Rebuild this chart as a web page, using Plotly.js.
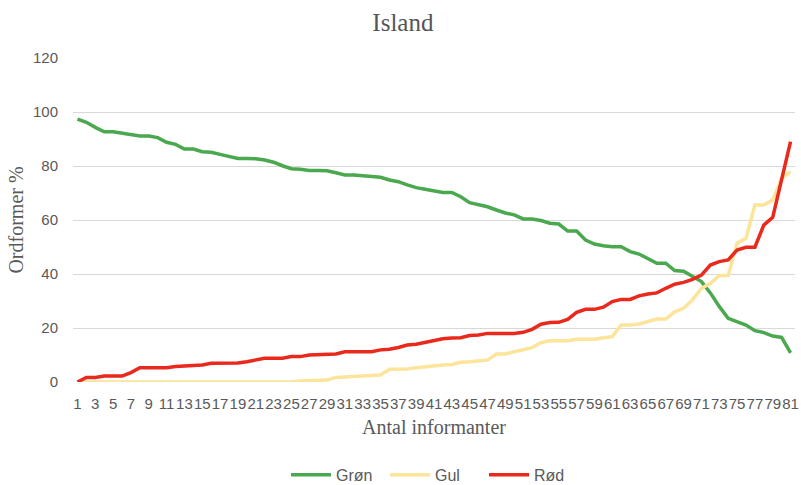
<!DOCTYPE html>
<html>
<head>
<meta charset="utf-8">
<script src="https://cdn.plot.ly/plotly-3.0.1.min.js"></script>
<style>
  html, body { margin: 0; padding: 0; background: #fff; }
  #chart { width: 801px; height: 485px; }
</style>
</head>
<body>
<div id="chart"></div>
<script>
// informant number, 1..81
const informanter = [1, 2, 3, 4, 5, 6, 7, 8, 9, 10, 11, 12, 13, 14, 15, 16, 17, 18, 19, 20,
  21, 22, 23, 24, 25, 26, 27, 28, 29, 30, 31, 32, 33, 34, 35, 36, 37, 38, 39, 40,
  41, 42, 43, 44, 45, 46, 47, 48, 49, 50, 51, 52, 53, 54, 55, 56, 57, 58, 59, 60,
  61, 62, 63, 64, 65, 66, 67, 68, 69, 70, 71, 72, 73, 74, 75, 76, 77, 78, 79, 80, 81]

const tickLabels = [1, 3, 5, 7, 9, 11, 13, 15, 17, 19, 21, 23, 25, 27, 29, 31, 33, 35, 37, 39,
  41, 43, 45, 47, 49, 51, 53, 55, 57, 59, 61, 63, 65, 67, 69, 71, 73, 75, 77, 79, 81]

const groen = [97.4, 96.2, 94.3, 92.7, 92.7, 92.1, 91.6, 91.1, 91.1, 90.5,
  88.8, 88.0, 86.3, 86.3, 85.3, 85.1, 84.3, 83.7, 82.8, 82.8,
  82.7, 82.2, 81.4, 80.1, 79.0, 78.8, 78.3, 78.3, 78.2, 77.5,
  76.7, 76.7, 76.5, 76.0, 75.8, 74.8, 74.2, 73.0, 72.0, 71.4,
  70.7, 70.2, 70.2, 68.6, 66.4, 65.8, 64.9, 63.7, 62.6, 61.9,
  60.4, 60.4, 59.8, 58.8, 58.5, 55.9, 55.9, 52.6, 51.1, 50.5,
  50.1, 50.1, 48.3, 47.4, 45.6, 44.0, 44.0, 41.3, 41.0, 39.0,
  37.2, 33.0, 28.0, 23.6, 22.3, 21.1, 19.0, 18.3, 17.0, 16.5, 10.8]

const gul = [0, 0, 0, 0, 0, 0, 0, 0, 0, 0,
  0, 0, 0, 0, 0, 0, 0, 0, 0, 0,
  0, 0, 0, 0, 0, 0.4, 0.5, 0.5, 0.7, 1.7,
  1.7, 2.0, 2.2, 2.5, 2.6, 4.7, 4.7, 4.8, 5.3, 5.7,
  5.9, 6.3, 6.5, 7.3, 7.5, 7.8, 8.1, 10.4, 10.4, 11.2,
  11.9, 12.7, 14.6, 15.3, 15.3, 15.3, 15.8, 15.8, 15.8, 16.4,
  16.8, 21.1, 21.1, 21.5, 22.5, 23.3, 23.3, 26.0, 27.3, 30.4,
  34.7, 36.5, 39.4, 39.4, 51.4, 53.2, 65.6, 65.6, 67.4, 75.4, 77.9]

const roed = [0, 1.7, 1.7, 2.2, 2.2, 2.2, 3.5, 5.3, 5.3, 5.3,
  5.3, 5.7, 5.9, 6.3, 6.3, 6.9, 7.0, 7.0, 7.0, 7.5,
  8.1, 8.8, 8.8, 8.8, 9.4, 9.4, 10.0, 10.2, 10.2, 10.4,
  11.2, 11.2, 11.2, 11.2, 11.9, 12.1, 12.8, 13.7, 14.0, 14.7,
  15.6, 16.0, 16.3, 16.4, 17.2, 17.4, 18.0, 18.0, 18.0, 18.0,
  18.4, 19.5, 21.4, 22.0, 22.1, 23.2, 25.8, 26.9, 26.9, 27.7,
  29.8, 30.6, 30.6, 31.9, 32.6, 33.0, 34.7, 36.2, 36.9, 38.0,
  39.6, 43.3, 44.6, 45.2, 48.9, 49.9, 49.9, 58.1, 61.0, 75.0, 89.0]

const serif = '"Liberation Serif", "DejaVu Serif", serif'
const sans = '"Liberation Sans", Arial, sans-serif'

function line(name, y, color) {
  return {
    x: informanter,
    y: y,
    name: name,
    type: 'scatter',
    mode: 'lines',
    line: { color: color, width: 3.5 },
    hoverinfo: 'skip'
  }
}

Plotly.newPlot('chart', [
  line('Grøn', groen, '#4aa84f'),
  line('Gul', gul, '#fce49a'),
  line('Rød', roed, '#e8291c')
], {
  width: 801,
  height: 485,
  margin: { l: 73, r: 6, t: 58, b: 103 },
  paper_bgcolor: '#fff',
  plot_bgcolor: '#fff',
  title: {
    text: 'Island',
    font: { family: serif, size: 25, color: '#555555' },
    x: 0.503,
    xanchor: 'center',
    y: 0.955,
    yanchor: 'middle'
  },
  xaxis: {
    range: [0.5, 81.5],
    tickvals: tickLabels,
    ticktext: tickLabels.map(String),
    tickangle: 0,
    showgrid: false,
    zeroline: false,
    showline: false,
    automargin: false,
    ticklabelstandoff: 11,
    tickfont: { family: sans, size: 15, color: '#595959' },
    title: {
      text: 'Antal informanter',
      font: { family: serif, size: 20, color: '#595959' },
      standoff: 8
    }
  },
  yaxis: {
    range: [0, 120],
    dtick: 20,
    showgrid: true,
    gridcolor: '#d9d9d9',
    gridwidth: 1,
    zeroline: false,
    showline: false,
    automargin: false,
    ticklabelstandoff: 14,
    tickfont: { family: sans, size: 15, color: '#595959' },
    title: {
      text: 'Ordformer %',
      font: { family: serif, size: 20, color: '#595959' },
      standoff: 3
    }
  },
  showlegend: true,
  legend: {
    orientation: 'h',
    x: 0.295,
    xanchor: 'left',
    yref: 'container',
    y: 0.021,
    yanchor: 'middle',
    entrywidth: 44,
    font: { family: sans, size: 16, color: '#595959' },
    itemwidth: 40
  }
}, {
  displayModeBar: false,
  staticPlot: true
})
</script>
</body>
</html>
